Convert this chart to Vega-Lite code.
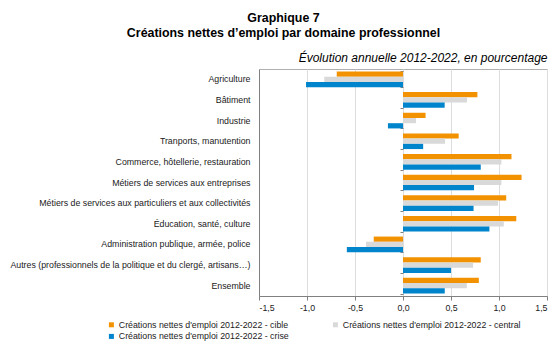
{
  "$schema": "https://vega.github.io/schema/vega-lite/v6.json",
  "width": 288,
  "height": 227,
  "autosize": {"type": "none"},
  "padding": {"left": 259, "top": 69, "right": 13, "bottom": 51},
  "background": "white",
  "title": {
    "text": ["Graphique 7", "Créations nettes d’emploi par domaine professionnel"],
    "anchor": "middle",
    "frame": "group",
    "dx": -119.5,
    "font": "Liberation Sans",
    "fontSize": 12.4,
    "fontWeight": "bold",
    "color": "#000000",
    "lineHeight": 15,
    "offset": 12
  },
  "config": {
    "font": "Liberation Sans",
    "view": {"stroke": "#b0b0b0", "strokeWidth": 1},
    "axis": {"grid": false, "labelFont": "Liberation Sans", "titleFont": "Liberation Sans"}
  },
  "data": {
    "values": [
      {"Domaine": "Agriculture", "Scenario": "Créations nettes d'emploi 2012-2022 - cible", "Valeur": -0.69},
      {"Domaine": "Agriculture", "Scenario": "Créations nettes d'emploi 2012-2022 - central", "Valeur": -0.82},
      {"Domaine": "Agriculture", "Scenario": "Créations nettes d'emploi 2012-2022 - crise", "Valeur": -1.01},
      {"Domaine": "Bâtiment", "Scenario": "Créations nettes d'emploi 2012-2022 - cible", "Valeur": 0.775},
      {"Domaine": "Bâtiment", "Scenario": "Créations nettes d'emploi 2012-2022 - central", "Valeur": 0.667},
      {"Domaine": "Bâtiment", "Scenario": "Créations nettes d'emploi 2012-2022 - crise", "Valeur": 0.434},
      {"Domaine": "Industrie", "Scenario": "Créations nettes d'emploi 2012-2022 - cible", "Valeur": 0.235},
      {"Domaine": "Industrie", "Scenario": "Créations nettes d'emploi 2012-2022 - central", "Valeur": 0.135},
      {"Domaine": "Industrie", "Scenario": "Créations nettes d'emploi 2012-2022 - crise", "Valeur": -0.157},
      {"Domaine": "Tranports, manutention", "Scenario": "Créations nettes d'emploi 2012-2022 - cible", "Valeur": 0.58},
      {"Domaine": "Tranports, manutention", "Scenario": "Créations nettes d'emploi 2012-2022 - central", "Valeur": 0.438},
      {"Domaine": "Tranports, manutention", "Scenario": "Créations nettes d'emploi 2012-2022 - crise", "Valeur": 0.21},
      {"Domaine": "Commerce, hôtellerie, restauration", "Scenario": "Créations nettes d'emploi 2012-2022 - cible", "Valeur": 1.13},
      {"Domaine": "Commerce, hôtellerie, restauration", "Scenario": "Créations nettes d'emploi 2012-2022 - central", "Valeur": 1.025},
      {"Domaine": "Commerce, hôtellerie, restauration", "Scenario": "Créations nettes d'emploi 2012-2022 - crise", "Valeur": 0.81},
      {"Domaine": "Métiers de services aux entreprises", "Scenario": "Créations nettes d'emploi 2012-2022 - cible", "Valeur": 1.235},
      {"Domaine": "Métiers de services aux entreprises", "Scenario": "Créations nettes d'emploi 2012-2022 - central", "Valeur": 1.025},
      {"Domaine": "Métiers de services aux entreprises", "Scenario": "Créations nettes d'emploi 2012-2022 - crise", "Valeur": 0.74},
      {"Domaine": "Métiers de services aux particuliers et aux collectivités", "Scenario": "Créations nettes d'emploi 2012-2022 - cible", "Valeur": 1.075},
      {"Domaine": "Métiers de services aux particuliers et aux collectivités", "Scenario": "Créations nettes d'emploi 2012-2022 - central", "Valeur": 0.99},
      {"Domaine": "Métiers de services aux particuliers et aux collectivités", "Scenario": "Créations nettes d'emploi 2012-2022 - crise", "Valeur": 0.735},
      {"Domaine": "Éducation, santé, culture", "Scenario": "Créations nettes d'emploi 2012-2022 - cible", "Valeur": 1.18},
      {"Domaine": "Éducation, santé, culture", "Scenario": "Créations nettes d'emploi 2012-2022 - central", "Valeur": 1.05},
      {"Domaine": "Éducation, santé, culture", "Scenario": "Créations nettes d'emploi 2012-2022 - crise", "Valeur": 0.9},
      {"Domaine": "Administration publique, armée, police", "Scenario": "Créations nettes d'emploi 2012-2022 - cible", "Valeur": -0.305},
      {"Domaine": "Administration publique, armée, police", "Scenario": "Créations nettes d'emploi 2012-2022 - central", "Valeur": -0.385},
      {"Domaine": "Administration publique, armée, police", "Scenario": "Créations nettes d'emploi 2012-2022 - crise", "Valeur": -0.585},
      {"Domaine": "Autres (professionnels de la politique et du clergé, artisans…)", "Scenario": "Créations nettes d'emploi 2012-2022 - cible", "Valeur": 0.81},
      {"Domaine": "Autres (professionnels de la politique et du clergé, artisans…)", "Scenario": "Créations nettes d'emploi 2012-2022 - central", "Valeur": 0.73},
      {"Domaine": "Autres (professionnels de la politique et du clergé, artisans…)", "Scenario": "Créations nettes d'emploi 2012-2022 - crise", "Valeur": 0.5},
      {"Domaine": "Ensemble", "Scenario": "Créations nettes d'emploi 2012-2022 - cible", "Valeur": 0.79},
      {"Domaine": "Ensemble", "Scenario": "Créations nettes d'emploi 2012-2022 - central", "Valeur": 0.665},
      {"Domaine": "Ensemble", "Scenario": "Créations nettes d'emploi 2012-2022 - crise", "Valeur": 0.435}
    ]
  },
  "resolve": {"axis": {"x": "independent", "y": "independent"}},
  "layer": [
    {
      "mark": {"type": "bar"},
      "encoding": {
        "y": {
          "field": "Domaine",
          "type": "nominal",
          "sort": null,
          "scale": {"paddingInner": 0.24, "paddingOuter": 0.12},
          "axis": {
            "title": null,
            "ticks": false,
            "domain": true,
            "domainColor": "#808080",
            "labelFontSize": 8.8,
            "labelColor": "#1a1a1a",
            "labelPadding": 9,
            "labelLimit": 300
          }
        },
        "yOffset": {
          "field": "Scenario",
          "type": "nominal",
          "sort": [
            "Créations nettes d'emploi 2012-2022 - cible",
            "Créations nettes d'emploi 2012-2022 - central",
            "Créations nettes d'emploi 2012-2022 - crise"
          ],
          "scale": {"paddingInner": 0, "paddingOuter": 0}
        },
        "x": {
          "field": "Valeur",
          "type": "quantitative",
          "scale": {"domain": [-1.5, 1.5], "nice": false, "zero": false},
          "axis": {
            "title": null,
            "values": [-1.5, -1, -0.5, 0, 0.5, 1, 1.5],
            "labelExpr": "replace(replace(format(datum.value, '.1f'), '.', ','), '\u2212', '-')",
            "grid": true,
            "gridColor": "#dddddd",
            "domainColor": "#808080",
            "tickColor": "#808080",
            "tickSize": 4,
            "labelFontSize": 8.8,
            "labelColor": "#1a1a1a",
            "labelPadding": 3
          }
        },
        "color": {
          "field": "Scenario",
          "type": "nominal",
          "scale": {
            "domain": [
              "Créations nettes d'emploi 2012-2022 - cible",
              "Créations nettes d'emploi 2012-2022 - central",
              "Créations nettes d'emploi 2012-2022 - crise"
            ],
            "range": ["#F39200", "#D9D9D9", "#0084CC"]
          },
          "legend": {
            "title": null,
            "orient": "none",
            "direction": "horizontal",
            "legendX": -152,
            "legendY": 251,
            "columns": 2,
            "columnPadding": 42,
            "rowPadding": 2,
            "symbolType": "square",
            "symbolSize": 25,
            "symbolStrokeWidth": 0,
            "labelFontSize": 8.8,
            "labelColor": "#1a1a1a",
            "labelOffset": 3,
            "labelLimit": 300
          }
        }
      }
    },
    {
      "mark": {"type": "rule", "color": "#909090", "strokeWidth": 1},
      "encoding": {
        "x": {
          "datum": 0,
          "type": "quantitative",
          "axis": {
            "orient": "top",
            "title": "Évolution annuelle 2012-2022, en pourcentage",
            "titleAnchor": "end",
            "titleFontStyle": "italic",
            "titleFontWeight": "normal",
            "titleFontSize": 12,
            "titleColor": "#000000",
            "titlePadding": 5,
            "labels": false,
            "ticks": false,
            "domain": false,
            "grid": false
          }
        },
        "y": {
          "field": "Domaine",
          "type": "nominal",
          "sort": null,
          "axis": {
            "orient": "left",
            "offset": -144,
            "title": null,
            "labels": false,
            "ticks": true,
            "tickBand": "extent",
            "tickSize": 3,
            "tickColor": "#808080",
            "domain": false,
            "grid": false
          }
        }
      }
    }
  ]
}
